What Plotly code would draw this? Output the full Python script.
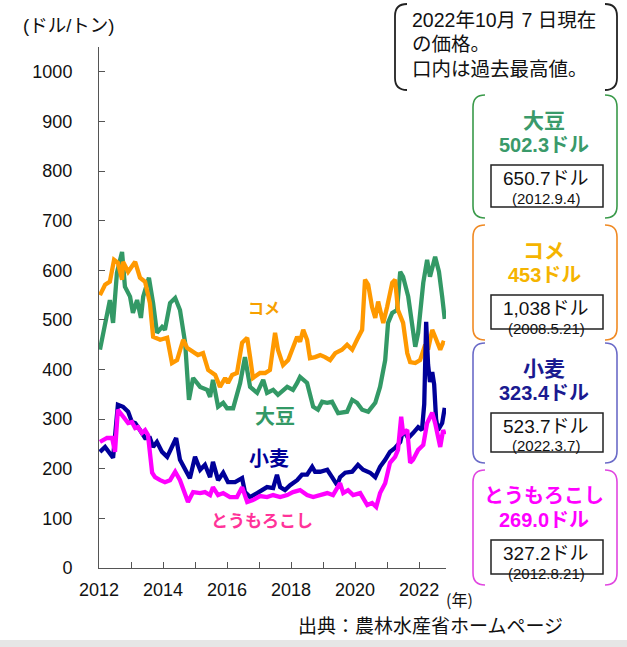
import plotly.graph_objects as go

# ---- data (decimal year, US$/t) ----
soy_x = [2012.03, 2012.34, 2012.44, 2012.56, 2012.72, 2012.81, 2012.97, 2013.06, 2013.19, 2013.31,
         2013.38, 2013.56, 2013.69, 2013.81, 2013.97, 2014.06, 2014.22, 2014.38, 2014.53, 2014.69,
         2014.81, 2014.94, 2015.16, 2015.38, 2015.47, 2015.56, 2015.72, 2015.88, 2016.00, 2016.19,
         2016.41, 2016.56, 2016.72, 2016.94, 2017.13, 2017.25, 2017.44, 2017.59, 2017.88, 2018.06,
         2018.19, 2018.28, 2018.50, 2018.69, 2018.84, 2018.97, 2019.13, 2019.28, 2019.47, 2019.75,
         2019.91, 2020.06, 2020.22, 2020.41, 2020.63, 2020.78, 2020.94, 2021.03, 2021.16, 2021.31,
         2021.41, 2021.50, 2021.66, 2021.78, 2021.88, 2021.97, 2022.13, 2022.25, 2022.34, 2022.50,
         2022.62, 2022.72, 2022.80]
soy_y = [440, 540, 494, 595, 637, 567, 547, 514, 540, 504,
         547, 585, 534, 474, 486, 480, 534, 544, 520, 454,
         339, 383, 365, 359, 345, 379, 325, 333, 322, 322,
         373, 425, 365, 353, 379, 353, 359, 349, 365, 359,
         373, 385, 373, 325, 319, 335, 333, 335, 312, 315,
         339, 333, 319, 315, 333, 365, 419, 494, 514, 520,
         597, 587, 547, 494, 446, 474, 575, 621, 587, 627,
         597, 547, 502]

rice_x = [2012.03, 2012.19, 2012.34, 2012.47, 2012.59, 2012.72, 2012.75, 2012.91, 2013.13, 2013.28,
          2013.44, 2013.59, 2013.69, 2013.91, 2014.13, 2014.28, 2014.44, 2014.63, 2014.75, 2014.94,
          2015.09, 2015.25, 2015.41, 2015.63, 2015.78, 2015.94, 2016.03, 2016.16, 2016.31, 2016.47,
          2016.63, 2016.72, 2016.81, 2017.03, 2017.19, 2017.34, 2017.50, 2017.59, 2017.75, 2017.91,
          2018.06, 2018.19, 2018.28, 2018.38, 2018.50, 2018.59, 2018.75, 2018.91, 2019.06, 2019.22,
          2019.38, 2019.59, 2019.75, 2019.91, 2020.06, 2020.22, 2020.31, 2020.41, 2020.53, 2020.63,
          2020.72, 2020.88, 2021.00, 2021.16, 2021.25, 2021.34, 2021.50, 2021.63, 2021.72, 2021.88,
          2022.03, 2022.19, 2022.28, 2022.41, 2022.50, 2022.66, 2022.75, 2022.80]
rice_y = [550, 571, 577, 621, 615, 581, 617, 597, 617, 585,
          577, 534, 466, 460, 464, 413, 419, 460, 444, 435,
          429, 433, 399, 389, 365, 383, 373, 389, 393, 454,
          464, 425, 383, 393, 393, 399, 474, 440, 409, 419,
          444, 466, 456, 480, 460, 423, 425, 429, 425, 419,
          433, 440, 450, 440, 460, 480, 581, 571, 526, 504,
          537, 494, 526, 575, 581, 520, 494, 433, 415, 413,
          419, 450, 440, 480, 466, 440, 454, 453]

wheat_x = [2012.03, 2012.19, 2012.44, 2012.59, 2012.75, 2012.91, 2013.03, 2013.13, 2013.28, 2013.44,
           2013.59, 2013.69, 2013.81, 2013.97, 2014.13, 2014.28, 2014.41, 2014.53, 2014.69, 2014.84,
           2015.00, 2015.16, 2015.31, 2015.47, 2015.56, 2015.72, 2015.88, 2016.03, 2016.25, 2016.47,
           2016.56, 2016.72, 2016.94, 2017.13, 2017.25, 2017.44, 2017.56, 2017.66, 2017.81, 2017.97,
           2018.19, 2018.34, 2018.50, 2018.66, 2018.75, 2018.91, 2019.13, 2019.28, 2019.44, 2019.53,
           2019.69, 2019.91, 2020.09, 2020.25, 2020.47, 2020.63, 2020.78, 2020.94, 2021.09, 2021.25,
           2021.41, 2021.50, 2021.66, 2021.81, 2021.97, 2022.09, 2022.16, 2022.22, 2022.25, 2022.28,
           2022.34, 2022.41, 2022.47, 2022.53, 2022.59, 2022.72, 2022.80]
wheat_y = [234, 244, 222, 329, 325, 315, 294, 292, 278, 262,
           262, 244, 254, 234, 224, 242, 262, 218, 198, 181,
           224, 198, 208, 183, 214, 177, 192, 173, 173, 181,
           153, 143, 151, 157, 163, 161, 188, 163, 157, 167,
           177, 188, 188, 204, 194, 194, 198, 183, 167, 183,
           192, 194, 208, 198, 192, 183, 204, 218, 234, 242,
           254, 278, 262, 272, 284, 278, 330, 496, 440, 410,
           375, 395, 370, 300, 278, 292, 323]

corn_x = [2012.03, 2012.25, 2012.41, 2012.50, 2012.59, 2012.75, 2012.91, 2013.03, 2013.13, 2013.22,
          2013.34, 2013.44, 2013.53, 2013.66, 2013.75, 2013.91, 2014.06, 2014.22, 2014.38, 2014.53,
          2014.69, 2014.78, 2014.94, 2015.16, 2015.31, 2015.47, 2015.56, 2015.72, 2015.88, 2016.09,
          2016.31, 2016.47, 2016.63, 2016.81, 2017.03, 2017.25, 2017.44, 2017.66, 2017.88, 2018.06,
          2018.28, 2018.50, 2018.69, 2018.91, 2019.13, 2019.31, 2019.53, 2019.63, 2019.78, 2019.94,
          2020.16, 2020.38, 2020.53, 2020.66, 2020.78, 2020.94, 2021.09, 2021.25, 2021.34, 2021.44,
          2021.50, 2021.63, 2021.72, 2021.81, 2021.97, 2022.13, 2022.25, 2022.41, 2022.50, 2022.66,
          2022.75, 2022.80]
corn_y = [254, 262, 262, 234, 319, 305, 292, 294, 282, 284,
          272, 278, 268, 192, 183, 177, 173, 177, 194, 177,
          147, 133, 153, 151, 153, 147, 163, 147, 151, 143,
          143, 163, 133, 137, 145, 143, 147, 143, 147, 153,
          157, 147, 143, 147, 151, 147, 171, 151, 157, 147,
          151, 127, 131, 123, 151, 171, 212, 224, 238, 305,
          272, 278, 212, 218, 238, 248, 292, 313, 292, 244,
          278, 269]

year_ticks = list(range(2012, 2023))
year_labels = [str(y) if y % 2 == 0 else "" for y in year_ticks]
y_ticks = list(range(0, 1001, 100))

C_SOY = "#339966"
C_RICE = "#ff9900"
C_WHEAT = "#000099"
C_CORN = "#ff00ff"

fig = go.Figure()
for xs, ys, col, nm in [(soy_x, soy_y, C_SOY, "大豆"), (rice_x, rice_y, C_RICE, "コメ"),
                        (wheat_x, wheat_y, C_WHEAT, "小麦"), (corn_x, corn_y, C_CORN, "とうもろこし")]:
    fig.add_trace(go.Scatter(x=xs, y=ys, mode="lines", name=nm,
                             line=dict(color=col, width=4.3), hoverinfo="skip"))

W, H = 627, 647
L, R, T, B = 99, 181, 47, 79
PW, PH = W - L - R, H - T - B

def px(x):
    return (x - L) / PW

def py(y):
    return (H - B - y) / PH

def pt(x, y):
    return f"{px(x):.5f},{py(y):.5f}"

JP = "Noto Sans CJK JP"
MIX = "Liberation Sans, Noto Sans CJK JP"
shapes = []

def bracket(x0, x1, y0, y1, color, r=12, w=1.6):
    left = (f"M {pt(x0 + r, y0)} Q {pt(x0, y0)} {pt(x0, y0 + r)} "
            f"L {pt(x0, y1 - r)} Q {pt(x0, y1)} {pt(x0 + r, y1)}")
    right = (f"M {pt(x1 - r, y0)} Q {pt(x1, y0)} {pt(x1, y0 + r)} "
             f"L {pt(x1, y1 - r)} Q {pt(x1, y1)} {pt(x1 - r, y1)}")
    for p in (left, right):
        shapes.append(dict(type="path", path=p, xref="paper", yref="paper",
                           line=dict(color=color, width=w)))

def rect(x0, x1, y0, y1):
    shapes.append(dict(type="rect", xref="paper", yref="paper",
                       x0=px(x0), x1=px(x1), y0=py(y1), y1=py(y0),
                       line=dict(color="#222222", width=1.5), fillcolor="white"))

annotations = []

def text(x, y, s, size, color="#111111", bold=False, xanchor="center", family=MIX):
    annotations.append(dict(xref="paper", yref="paper", x=px(x), y=py(y), text=s,
                            showarrow=False, xanchor=xanchor, yanchor="middle",
                            borderpad=0,
                            font=dict(family=family, size=size, color=color,
                                      weight="bold" if bold else "normal")))

# top note box
bracket(395, 617, 4, 90, "#222222", r=12, w=1.8)
note_lines = ["2022年10月 7 日現在", "の価格。", "口内は過去最高値。"]
for i, s in enumerate(note_lines):
    text(411, 20 + 24.5 * i, s, 19.5, xanchor="left")

# right panel boxes
panels = [
    ("大豆", "502.3ドル", "650.7ドル", "(2012.9.4)", "#3a9a6a", "#3a9a4a", 95, 218, 21),
    ("コメ", "453ドル", "1,038ドル", "(2008.5.21)", "#f5b400", "#f08a24", 225, 340, 21),
    ("小麦", "323.4ドル", "523.7ドル", "(2022.3.7)", "#1a1a90", "#6b6bc8", 343, 463, 21),
    ("とうもろこし", "269.0ドル", "327.2ドル", "(2012.8.21)", "#ff00ff", "#e046e0", 470, 585, 20),
]
for name, now, rec, date, tcol, bcol, y0, y1, nsz in panels:
    bracket(473, 617, y0, y1, bcol, r=12, w=1.6)
    text(544, y0 + 25.5, name, nsz, tcol, bold=True)
    text(544, y0 + 49.5, now, 20, tcol, bold=True)
    rect(491, 603, y0 + 70, y1 - 11)
    text(546, y0 + 83, rec, 19)
    text(546, y0 + 103, date, 15)

# in-chart labels
text(264, 307, "コメ", 16, "#f7a000", bold=True, family=JP)
text(275, 415, "大豆", 20, "#339966", bold=True, family=JP)
text(269, 457, "小麦", 20, "#000099", bold=True, family=JP)
text(262, 519, "とうもろこし", 17, "#ff3399", bold=True, family=JP)

# axis titles / source
text(68, 26, "(ドル/トン)", 18.5, "#111111")
text(459, 599, "(年)", 16, "#111111", family=JP)
text(430, 624, "出典：農林水産省ホームページ", 19, "#111111", family=JP)

# bottom separator band
shapes.append(dict(type="rect", xref="paper", yref="paper", x0=px(0), x1=px(W),
                   y0=py(H), y1=py(640), line=dict(width=0), fillcolor="#e6e6e6"))

fig.update_layout(
    width=W, height=H,
    margin=dict(l=L, r=R, t=T, b=B, pad=0),
    paper_bgcolor="white", plot_bgcolor="white",
    showlegend=False,
    shapes=shapes, annotations=annotations,
    xaxis=dict(range=[2012, 2022.84], tickmode="array", tickvals=year_ticks, ticktext=year_labels,
               ticks="inside", ticklen=6, tickcolor="#555555", showline=True, linecolor="#555555",
               linewidth=1, showgrid=False, zeroline=False, ticklabelstandoff=5,
               tickfont=dict(family="Liberation Sans", size=18, color="#111111")),
    yaxis=dict(range=[0, 1050], tickmode="array", tickvals=y_ticks, ticks="inside", ticklen=6,
               tickcolor="#555555", showline=True, linecolor="#555555", linewidth=1,
               showgrid=False, zeroline=False, ticklabelstandoff=22,
               tickfont=dict(family="Liberation Sans", size=18, color="#111111")),
)

fig.write_html("out.html", config={"displayModeBar": False},
               post_script="document.body.style.margin='0px';")
